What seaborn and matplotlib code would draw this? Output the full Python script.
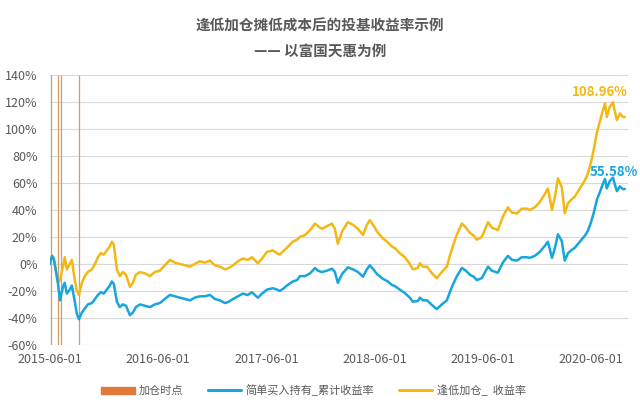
import matplotlib
matplotlib.use("Agg")
import matplotlib.pyplot as plt
from matplotlib.patches import Patch
from matplotlib.lines import Line2D
from matplotlib.ticker import FuncFormatter
import pandas as pd
import seaborn as sns

TITLE = "逢低加仓摊低成本后的投基收益率示例"
SUBTITLE = "—— 以富国天惠为例"

dates = [
    "2015-06-01", "2015-06-08", "2015-06-14", "2015-06-21", "2015-06-28", "2015-07-05",
    "2015-07-15", "2015-07-21", "2015-07-28", "2015-08-07", "2015-08-14", "2015-08-24",
    "2015-08-31", "2015-09-07", "2015-09-17", "2015-09-27", "2015-10-07", "2015-10-21",
    "2015-10-31", "2015-11-10", "2015-11-20", "2015-11-30", "2015-12-10", "2015-12-20",
    "2015-12-27", "2016-01-03", "2016-01-13", "2016-01-23", "2016-02-02", "2016-02-13",
    "2016-02-26", "2016-03-07", "2016-03-17", "2016-03-31", "2016-04-17", "2016-05-04",
    "2016-05-20", "2016-06-06", "2016-06-23", "2016-07-10", "2016-07-27", "2016-08-13",
    "2016-08-30", "2016-09-16", "2016-10-02", "2016-10-19", "2016-11-05", "2016-11-22",
    "2016-12-09", "2016-12-26", "2017-01-12", "2017-01-25", "2017-02-08", "2017-02-25",
    "2017-03-13", "2017-03-30", "2017-04-13", "2017-05-03", "2017-05-17", "2017-06-03",
    "2017-06-23", "2017-07-06", "2017-07-16", "2017-07-30", "2017-08-09", "2017-08-29",
    "2017-09-12", "2017-09-22", "2017-10-09", "2017-10-26", "2017-11-12", "2017-11-22",
    "2017-12-05", "2017-12-22", "2018-01-08", "2018-01-18", "2018-01-28", "2018-02-11",
    "2018-03-03", "2018-03-20", "2018-04-06", "2018-04-23", "2018-05-06", "2018-05-16",
    "2018-05-30", "2018-06-09", "2018-06-29", "2018-07-16", "2018-07-29", "2018-08-09",
    "2018-08-25", "2018-09-11", "2018-09-28", "2018-10-08", "2018-10-25", "2018-11-01",
    "2018-11-11", "2018-11-25", "2018-12-12", "2018-12-28", "2019-01-14", "2019-01-31",
    "2019-02-10", "2019-02-20", "2019-03-06", "2019-03-23", "2019-04-05", "2019-04-19",
    "2019-05-02", "2019-05-12", "2019-05-29", "2019-06-19", "2019-07-02", "2019-07-22",
    "2019-08-08", "2019-08-25", "2019-09-08", "2019-09-25", "2019-10-11", "2019-10-28",
    "2019-11-07", "2019-11-24", "2019-12-11", "2019-12-28", "2020-01-07", "2020-01-21",
    "2020-01-31", "2020-02-10", "2020-02-23", "2020-03-04", "2020-03-15", "2020-03-28",
    "2020-04-07", "2020-04-24", "2020-05-11", "2020-05-21", "2020-05-31", "2020-06-10",
    "2020-06-21", "2020-07-01", "2020-07-11", "2020-07-18", "2020-07-24", "2020-08-03",
    "2020-08-14", "2020-08-20", "2020-08-27", "2020-09-06", "2020-09-16", "2020-09-23",
]

# 逢低加仓 cumulative return (%)
dip_return = [
    0, 6, 4, -5, -14, -12,
    -2, 5, -4, 0, 3, -12,
    -20, -23, -14, -9, -6, -4,
    0, 5, 8, 7, 10, 13,
    16.5, 14, -4, -9, -6, -8,
    -17, -14, -8, -6, -7, -9,
    -6, -5, -1, 3, 1, 0,
    -1, -2, 0, 2, 1, 2.5,
    -1, -2, -4, -3, -1, 2,
    4, 3, 5, 0.5, 4, 9,
    10, 8, 7, 10, 12, 16.5,
    18, 20, 21.5, 25, 30, 28,
    26, 28, 30, 26, 15, 24,
    31, 29, 26, 21.5, 29, 32.5,
    28, 24, 19, 16, 13, 11.6,
    8, 5, 0, -4, -3, 0.5,
    -2, -2, -7, -10.6, -6, -2,
    6, 13, 22, 30, 27, 23,
    21, 18, 20, 31, 27, 25,
    35, 42, 38, 37.5, 41, 41,
    40, 42, 46, 52, 56, 40,
    50, 63.5, 57, 37.5, 45, 48,
    50, 56, 62, 67, 75, 85,
    98, 106, 114, 119, 109, 116.5,
    120, 113, 106.7, 111.6, 109, 108.96,
]

# 简单买入持有 cumulative return (%)
hold_return = [
    0, 6, 4, -5, -14, -27,
    -17, -14, -22, -19, -16, -28,
    -37, -41, -36, -33, -30, -29,
    -26, -23, -21, -22, -19, -16,
    -13, -15, -28, -32, -30, -31,
    -38, -36, -32, -30, -31, -32,
    -30, -29, -26, -23, -24, -25,
    -26, -27, -25, -24, -24, -23,
    -26, -27, -29, -28, -26, -24,
    -22, -23, -21, -25, -22, -19,
    -18, -19, -20, -18, -16, -13,
    -12, -9, -9, -7, -3, -5,
    -6, -5, -3.5, -6, -14, -7.5,
    -2.5, -4, -6, -9.5, -4, -1,
    -4.5, -7.5, -11, -13, -15.5, -16.5,
    -19, -21.5, -25, -28, -27.5, -25,
    -27, -27, -30.5, -33.5, -30, -27,
    -21, -15.5, -9, -3, -5, -8,
    -9.5, -12, -10.5, -2, -5, -6.5,
    1, 6, 3, 2.5, 5, 5,
    4.5, 6, 9, 13.5, 16.5, 4.5,
    12, 22, 17, 2.5, 8, 10.5,
    12, 16.5, 21, 24.5, 30.5, 38,
    48, 53.5, 59.5, 63, 56, 61.5,
    64, 59, 54, 57.5, 55.5, 55.58,
]

add_dates = ["2015-06-03", "2015-06-29", "2015-07-10", "2015-09-08"]
x_ticks = ["2015-06-01", "2016-06-01", "2017-06-01", "2018-06-01", "2019-06-01", "2020-06-01"]
y_ticks = [-60, -40, -20, 0, 20, 40, 60, 80, 100, 120, 140]
legend_labels = ["加仓时点", "简单买入持有_累计收益率", "逢低加仓_  收益率"]

BLUE = "#17A5DE"
GOLD = "#F4B813"
ORANGE = "#E2783A"
GREY = "#595959"

sns.set_style("white")
plt.rcParams["font.family"] = ["Noto Sans CJK SC", "DejaVu Sans"]

df = pd.DataFrame({
    "date": pd.to_datetime(dates),
    "hold": hold_return,
    "dip": dip_return,
})

fig = plt.figure(figsize=(6.4, 4.13), dpi=100)
ax = fig.add_axes([0.078, 0.165, 0.903, 0.653])

ax.vlines(pd.to_datetime(add_dates), y_ticks[0], y_ticks[-1], color="#D49A68", lw=0.9, zorder=1)
sns.lineplot(data=df, x="date", y="hold", ax=ax, color=BLUE, lw=1.8, zorder=3)
sns.lineplot(data=df, x="date", y="dip", ax=ax, color=GOLD, lw=1.8, zorder=2)

ax.set_ylim(y_ticks[0], y_ticks[-1])
ax.set_xlim(pd.Timestamp("2015-06-01"), pd.Timestamp("2020-10-03"))
ax.set_yticks(y_ticks)
ax.yaxis.set_major_formatter(FuncFormatter(lambda v, _: f"{v:.0f}%"))
ax.set_xticks(pd.to_datetime(x_ticks))
ax.set_xticklabels(x_ticks)
ax.grid(axis="y", color="#D9D9D9", lw=0.8)
ax.set_axisbelow(True)
for s in ax.spines.values():
    s.set_visible(False)
ax.tick_params(axis="y", length=0, pad=9, labelsize=9, labelcolor=GREY)
ax.tick_params(axis="x", length=0, pad=6, labelsize=9, labelcolor=GREY)
ax.set_xlabel("")
ax.set_ylabel("")

last = df.iloc[-1]
ax.annotate(f"{last['dip']:.2f}%", xy=(last["date"], last["dip"]), xytext=(-18, 18),
            textcoords="offset points", ha="center", va="center",
            color=GOLD, fontsize=9.5, fontweight="bold")
ax.annotate(f"{last['hold']:.2f}%", xy=(last["date"], last["hold"]), xytext=(-8, 12),
            textcoords="offset points", ha="center", va="center",
            color=BLUE, fontsize=9.5, fontweight="bold", annotation_clip=False)

fig.text(0.5, 0.937, TITLE, ha="center", va="center", fontsize=10.5, fontweight="bold", color=GREY)
fig.text(0.5, 0.877, SUBTITLE, ha="center", va="center", fontsize=10.5, fontweight="bold", color=GREY)

handles = [
    Patch(facecolor=ORANGE, edgecolor=ORANGE),
    Line2D([0], [0], color=BLUE, lw=2.2),
    Line2D([0], [0], color=GOLD, lw=2.2),
]
fig.legend(handles, legend_labels, loc="center", bbox_to_anchor=(0.49, 0.055), ncol=3,
           frameon=False, fontsize=8, labelcolor=GREY, handlelength=3.0, handleheight=0.6,
           columnspacing=2.2, handletextpad=0.4)

fig.savefig("out.png", dpi=100)
